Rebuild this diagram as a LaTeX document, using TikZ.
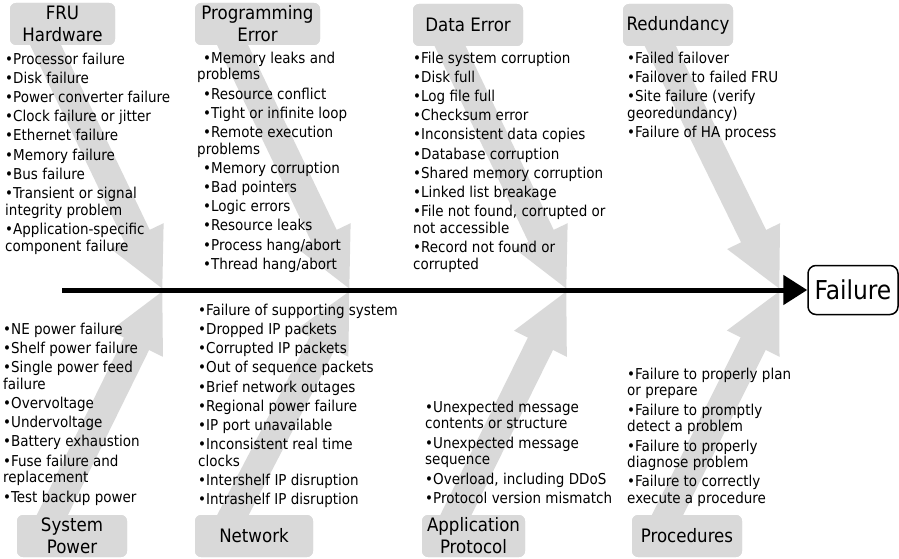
\documentclass[tikz,border=0pt]{standalone}
\usepackage{fontspec}
\setmainfont{DejaVu Sans Condensed}
\usetikzlibrary{arrows.meta}
\begin{document}
\begin{tikzpicture}[x=1pt, y=-1pt,
  cat/.style={fill=gray!30, rounded corners=6pt, inner sep=0pt, minimum height=42pt, align=center, font=\fontsize{18.5}{22}\selectfont},
  items/.style={anchor=north west, inner sep=0pt, align=left, font=\fontsize{15}{16.7}\selectfont},
  feed/.style={gray!30, line width=28pt, -{Triangle[width=54pt, length=60pt]}},
  spine/.style={line width=5pt, -{Triangle[width=29pt, length=24pt]}}]
\useasboundingbox (0,0) rectangle (899,559);
\coordinate (spine0) at (62,290);
\coordinate (tip0) at (163,290);
\coordinate (tip1) at (350,290);
\coordinate (tip2) at (567,290);
\coordinate (tip3) at (780,290);
\path (62.5,24) node[cat, minimum width=105pt] (cat0) {};
\path (257.5,24) node[cat, minimum width=125pt] (cat1) {};
\path (468,25) node[cat, minimum width=110pt] (cat2) {};
\path (678,25) node[cat, minimum width=110pt] (cat3) {};
\path (72,536) node[cat, minimum width=110pt] (cat4) {};
\path (254,536) node[cat, minimum width=118pt] (cat5) {};
\path (473.5,536) node[cat, minimum width=103pt] (cat6) {};
\path (687,536) node[cat, minimum width=110pt] (cat7) {};
\draw[feed] ([xshift=-27pt]cat0.center) -- (tip0);
\draw[feed] ([xshift=-35pt]cat1.center) -- (tip1);
\draw[feed] ([xshift=-28pt]cat2.center) -- (tip2);
\draw[feed] ([xshift=-28pt]cat3.center) -- (tip3);
\draw[feed] ([xshift=-30pt]cat4.center) -- (tip0);
\draw[feed] ([xshift=-32pt]cat5.center) -- (tip1);
\draw[feed] ([xshift=-28pt]cat6.center) -- (tip2);
\draw[feed] ([xshift=-30pt]cat7.center) -- (tip3);
\node[cat, minimum width=105pt] at (cat0) {FRU\\Hardware};
\node[cat, minimum width=125pt] at (cat1) {Programming\\Error};
\node[cat, minimum width=110pt] at (cat2) {Data Error};
\node[cat, minimum width=110pt] at (cat3) {Redundancy};
\node[cat, minimum width=110pt] at (cat4) {System\\Power};
\node[cat, minimum width=118pt] at (cat5) {Network};
\node[cat, minimum width=103pt] at (cat6) {Application\\Protocol};
\node[cat, minimum width=110pt] at (cat7) {Procedures};
\node[items] (list0) at (5,52.6) {•Processor failure\\[2.5pt]•Disk failure\\[2.5pt]•Power converter failure\\[2.5pt]•Clock failure or jitter\\[2.5pt]•Ethernet failure\\[2.5pt]•Memory failure\\[2.5pt]•Bus failure\\[2.5pt]•Transient or signal\\integrity problem\\[2.5pt]•Application-specific\\component failure};
\node[items] (list1) at (197,51.6) {\hspace{6pt}•Memory leaks and\\problems\\[2.5pt]\hspace{6pt}•Resource conflict\\[2.5pt]\hspace{6pt}•Tight or infinite loop\\[2.5pt]\hspace{6pt}•Remote execution\\problems\\[2.5pt]\hspace{6pt}•Memory corruption\\[2.5pt]\hspace{6pt}•Bad pointers\\[2.5pt]\hspace{6pt}•Logic errors\\[2.5pt]\hspace{6pt}•Resource leaks\\[2.5pt]\hspace{6pt}•Process hang/abort\\[2.5pt]\hspace{6pt}•Thread hang/abort};
\node[items] (list2) at (413,51.6) {•File system corruption\\[2.5pt]•Disk full\\[2.5pt]•Log file full\\[2.5pt]•Checksum error\\[2.5pt]•Inconsistent data copies\\[2.5pt]•Database corruption\\[2.5pt]•Shared memory corruption\\[2.5pt]•Linked list breakage\\[2.5pt]•File not found, corrupted or\\not accessible\\[2.5pt]•Record not found or\\corrupted};
\node[items] (list3) at (627,51.6) {•Failed failover\\[2.5pt]•Failover to failed FRU\\[2.5pt]•Site failure (verify\\georedundancy)\\[2.5pt]•Failure of HA process};
\node[items] (list4) at (3,322.6) {•NE power failure\\[2.5pt]•Shelf power failure\\[2.5pt]•Single power feed\\failure\\[2.5pt]•Overvoltage\\[2.5pt]•Undervoltage\\[2.5pt]•Battery exhaustion\\[2.5pt]•Fuse failure and\\replacement\\[2.5pt]•Test backup power};
\node[items] (list5) at (198,303.6) {•Failure of supporting system\\[2.5pt]•Dropped IP packets\\[2.5pt]•Corrupted IP packets\\[2.5pt]•Out of sequence packets\\[2.5pt]•Brief network outages\\[2.5pt]•Regional power failure\\[2.5pt]•IP port unavailable\\[2.5pt]•Inconsistent real time\\clocks\\[2.5pt]•Intershelf IP disruption\\[2.5pt]•Intrashelf IP disruption};
\node[items] (list6) at (425,400.6) {•Unexpected message\\contents or structure\\[2.5pt]•Unexpected message\\sequence\\[2.5pt]•Overload, including DDoS\\[2.5pt]•Protocol version mismatch};
\node[items] (list7) at (627,367.6) {•Failure to properly plan\\or prepare\\[2.5pt]•Failure to promptly\\detect a problem\\[2.5pt]•Failure to properly\\diagnose problem\\[2.5pt]•Failure to correctly\\execute a procedure};
\node[draw, line width=1.5pt, rounded corners=8pt, minimum width=90pt, minimum height=49pt, inner sep=0pt, font=\fontsize{26}{30}\selectfont] (fail) at (853,290) {Failure};
\draw[spine] (spine0) -- (fail.west);
\end{tikzpicture}
\end{document}
